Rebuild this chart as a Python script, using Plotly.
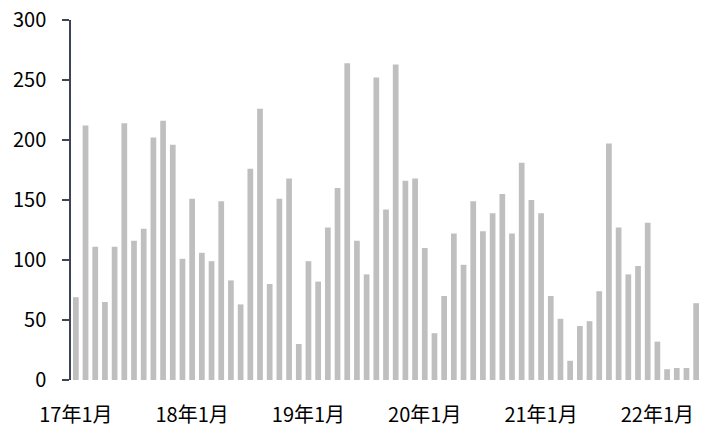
import plotly.graph_objects as go

# Monthly series, Jan 2017 - May 2022
months = [f"{y}年{m}月" for y in range(17, 23) for m in range(1, 13)][:65]
values = [
    69, 212, 111, 65, 111, 214, 116, 126, 202, 216, 196, 101,
    151, 106, 99, 149, 83, 63, 176, 226, 80, 151, 168, 30,
    99, 82, 127, 160, 264, 116, 88, 252, 142, 263, 166, 168,
    110, 39, 70, 122, 96, 149, 124, 139, 155, 122, 181, 150,
    139, 70, 51, 16, 45, 49, 74, 197, 127, 88, 95, 131,
    32, 9, 10, 10, 64,
]
tick_labels = ["17年1月", "18年1月", "19年1月", "20年1月", "21年1月", "22年1月"]
y_ticks = [0, 50, 100, 150, 200, 250, 300]

x_idx = list(range(len(values)))
tick_pos = [months.index(t) for t in tick_labels]

fig = go.Figure(
    go.Bar(x=x_idx, y=values, marker=dict(color="#bfbfbf", line=dict(width=0)),
           hovertext=months)
)

font_family = "Noto Sans CJK SC, Noto Sans, sans-serif"
fig.update_layout(
    width=701, height=429,
    margin=dict(l=71, r=0, t=20, b=49, autoexpand=False),
    paper_bgcolor="white", plot_bgcolor="white",
    bargap=0.41, showlegend=False,
    font=dict(family=font_family, color="#000000"),
)
fig.update_xaxes(
    range=[-0.5, len(values) - 0.5],
    tickmode="array", tickvals=tick_pos, ticktext=tick_labels,
    showline=False, showgrid=False, zeroline=False,
    ticks="outside", ticklen=17, tickcolor="rgba(0,0,0,0)",
    tickfont=dict(size=20), automargin=False,
)
fig.update_yaxes(
    range=[0, 300], tickmode="array", tickvals=y_ticks,
    showline=True, linecolor="#3d4455", linewidth=1.5,
    ticks="outside", ticklen=7, tickcolor="#3d4455", tickwidth=1.5,
    ticklabelstandoff=12,
    showgrid=False, zeroline=False,
    tickfont=dict(size=20), automargin=False,
)

fig.write_html("out.html")
